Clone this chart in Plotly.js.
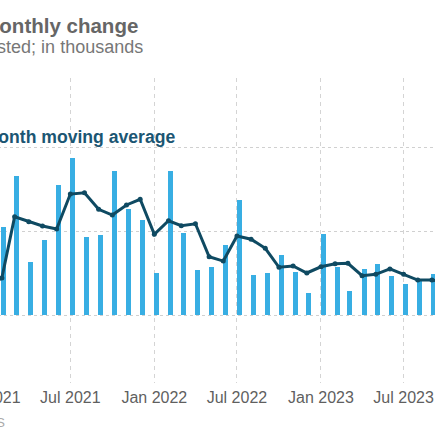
<!DOCTYPE html>
<html>
<head>
<meta charset="utf-8">
<script src="https://cdn.plot.ly/plotly-3.0.1.min.js"></script>
<style>
  html, body { margin:0; padding:0; background:#fff; overflow:hidden; width:435px; height:435px; }
  #wrap { position:absolute; top:0; }
</style>
</head>
<body>
<div id="wrap"></div>
<script>
// ---- data (thousands) ----
const months = ["2021-01-01","2021-02-01","2021-03-01","2021-04-01","2021-05-01","2021-06-01",
  "2021-07-01","2021-08-01","2021-09-01","2021-10-01","2021-11-01","2021-12-01",
  "2022-01-01","2022-02-01","2022-03-01","2022-04-01","2022-05-01","2022-06-01",
  "2022-07-01","2022-08-01","2022-09-01","2022-10-01","2022-11-01","2022-12-01",
  "2023-01-01","2023-02-01","2023-03-01","2023-04-01","2023-05-01","2023-06-01",
  "2023-07-01","2023-08-01","2023-09-01","2023-10-01"];
const monthlyChange = [403,529,832,320,451,777,939,465,479,860,632,567,
  253,860,493,271,287,420,688,241,255,360,257,136,
  483,287,148,277,305,237,186,205,245,150];
const movingAvg3 = [180,223,588,558,533,515,723,731,632,598,658,692,
  483,564,535,546,350,324,473,454,400,287,295,253,
  290,308,311,237,245,277,245,211,211,200];
const tickDates = ["2021-01-01","2021-07-01","2022-01-01","2022-07-01","2023-01-01","2023-07-01","2024-01-01"];
const tickLabels = ["Jan 2021","Jul 2021","Jan 2022","Jul 2022","Jan 2023","Jul 2023","Jan 2024"];
const yTicks = [0, 500, 1000];
const yTickLabels = ["0", "500", "1,000"];
const titleText = "Nonfarm payrolls: monthly change";
const subtitleText = "Seasonally adjusted; in thousands";
const avgLabel = "3-month moving average";
const sourceText = "Source: BLS";

// ---- geometry (window pixels) ----
const DAY = 86400000;
const plotLeftWin = -67.65, plotW = 583.05;
const ml = 100, mr = 50, mt = 78, mb = 52, H = 435;
const plotTop = mt, plotBottom = H - mb, plotH = plotBottom - plotTop;
const wrap = document.getElementById('wrap');
wrap.style.left = (plotLeftWin - ml) + 'px';
const W = ml + plotW + mr;
function px(x){ return (x - plotLeftWin) / plotW; }
function py(y){ return (plotBottom - y) / plotH; }

const FONT = '"Liberation Sans", Arial, Helvetica, sans-serif';

const traces = [
  {
    type:'bar', x: months, y: monthlyChange,
    width: months.map(()=>11*DAY), offset: months.map(()=>-1*DAY),
    marker:{color:'#38aee3'}, hoverinfo:'skip', showlegend:false
  },
  {
    type:'scatter', mode:'lines+markers', x: months, y: movingAvg3,
    line:{color:'#0f4a62', width:3}, marker:{color:'#0f4a62', size:5},
    hoverinfo:'skip', showlegend:false
  }
];

const layout = {
  width: W, height: H,
  margin:{l:ml, r:mr, t:mt, b:mb, pad:0},
  paper_bgcolor:'#fff', plot_bgcolor:'#fff',
  font:{family:FONT, color:'#666'},
  bargap:0,
  xaxis:{
    type:'date', range:['2020-09-01','2024-03-01'],
    tickvals: tickDates, ticktext: tickLabels,
    showgrid:true, gridcolor:'#d4d4d4', griddash:'4px,4px', gridwidth:1,
    zeroline:false, showline:false, ticks:'',
    tickfont:{size:16, color:'#5f5f5f', family:FONT}, ticklabelstandoff:3
  },
  yaxis:{
    range:[-402, 1414], tickvals: yTicks, ticktext: yTickLabels,
    showgrid:true, gridcolor:'#d0d0d0', griddash:'dot', gridwidth:1,
    zeroline:false, showline:false, ticks:'',
    tickfont:{size:14, color:'#666'}
  },
  annotations:[
    {text:'<b>'+titleText+'</b>', xref:'paper', yref:'paper', x:px(140.5), y:py(25.5),
     xanchor:'right', yanchor:'middle', showarrow:false,
     font:{size:20.5, color:'#666', family:FONT}},
    {text:subtitleText, xref:'paper', yref:'paper', x:px(145.5), y:py(47),
     xanchor:'right', yanchor:'middle', showarrow:false,
     font:{size:18, color:'#777', family:FONT}},
    {text:'<b>'+avgLabel+'</b>', xref:'paper', yref:'paper', x:px(177.5), y:py(137),
     xanchor:'right', yanchor:'middle', showarrow:false,
     font:{size:17.6, color:'#1b5673', family:FONT}},
    {text:sourceText, xref:'paper', yref:'paper', x:px(7.5), y:py(422.5),
     xanchor:'right', yanchor:'middle', showarrow:false,
     font:{size:13, color:'#aaa', family:FONT}}
  ]
};

Plotly.newPlot('wrap', traces, layout, {staticPlot:true, displayModeBar:false});
</script>
</body>
</html>
